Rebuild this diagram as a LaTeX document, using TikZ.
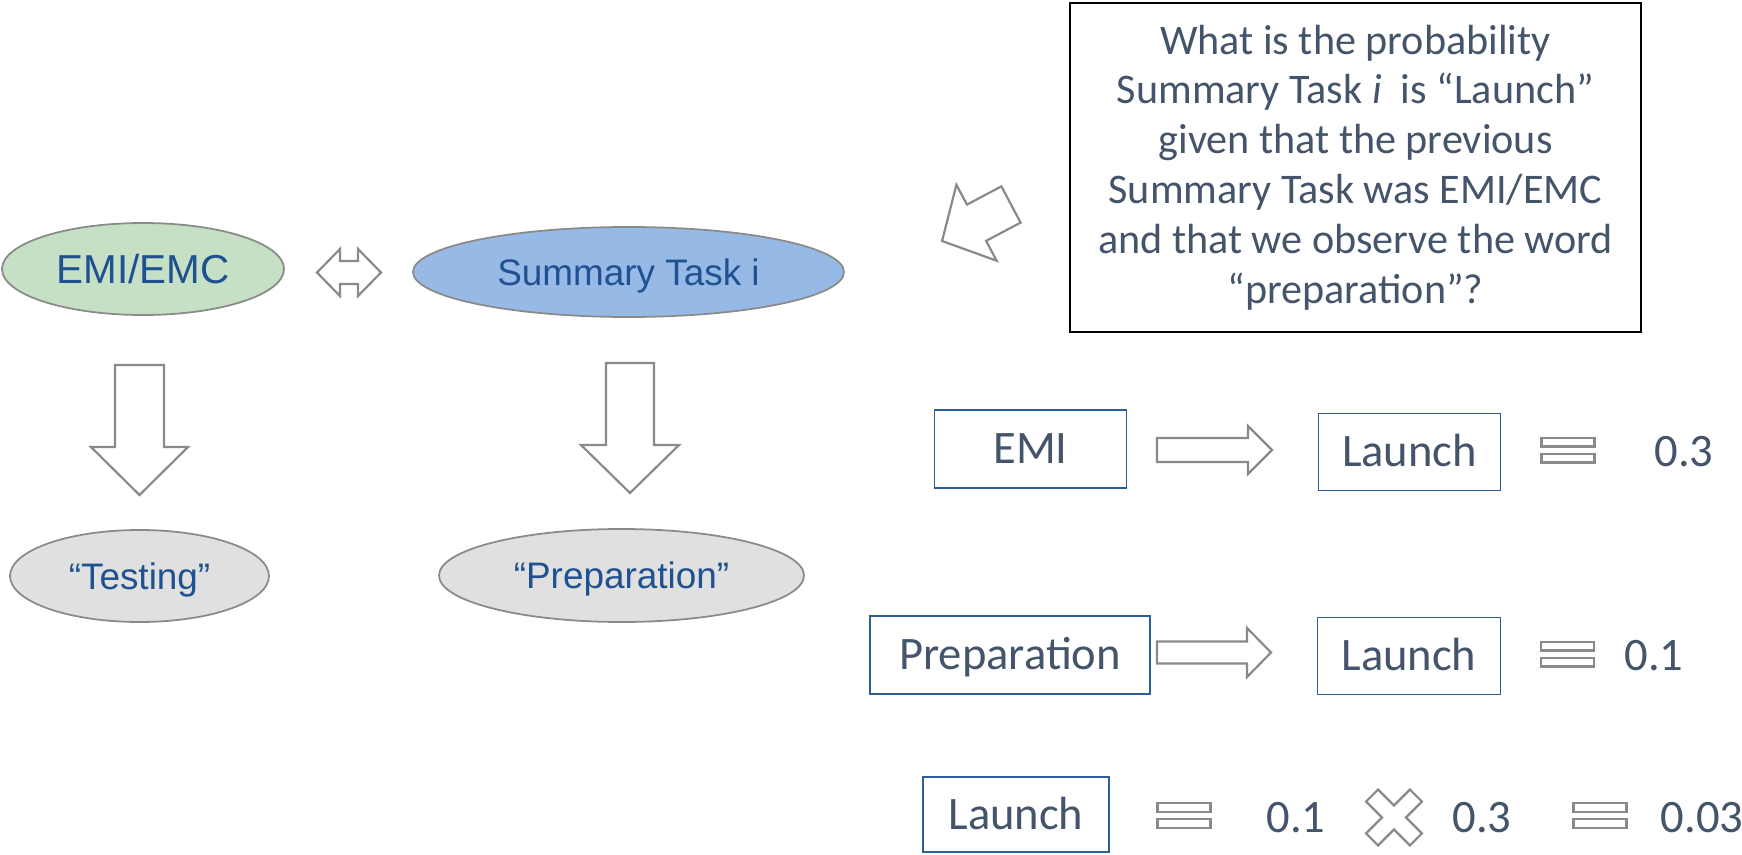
\documentclass[tikz,border=0pt]{standalone}
\usepackage{fontspec}
\setmainfont{Carlito}
\newfontfamily\ovalfont{Liberation Sans}
\usetikzlibrary{shapes.geometric}

\definecolor{txtgray}{HTML}{44546A}
\definecolor{ovaltext}{HTML}{1F5090}
\definecolor{linegray}{HTML}{8A8A8A}
\definecolor{fillgreen}{HTML}{C5E0C4}
\definecolor{fillblue}{HTML}{97B9E6}
\definecolor{fillgray}{HTML}{E0E0E0}
\definecolor{boxblue}{HTML}{2E5D9A}

\tikzset{
  blockline/.style={draw=linegray, line width=1.25pt, fill=white},
  oval/.style={ellipse, draw=linegray, line width=1pt, inner sep=0pt, text=ovaltext,
    font=\ovalfont\fontsize{21}{25}\selectfont, text height=17.1pt, text depth=2.1pt},
  ovalsize/.style 2 args={minimum width=#1*0.02cm, minimum height=#2*0.02cm},
  termbox/.style={rectangle, draw=boxblue, line width=1.1pt, inner sep=0pt, text=txtgray,
    font=\fontsize{26.5}{31}\selectfont, text height=19.4pt, text depth=2.65pt},
  numtxt/.style={inner sep=0pt, text=txtgray,
    font=\fontsize{26.5}{31}\selectfont, text height=19.4pt, text depth=2.65pt},
  questionbox/.style={rectangle, draw=black, line width=1.4pt, inner sep=0pt, text=txtgray,
    align=center, font=\fontsize{24}{28.4}\selectfont},
  % outlined block arrow pointing along +x: length / shaft half width / head half width / head length
  pics/blockarrow/.style args={#1/#2/#3/#4}{code={
    \draw[blockline] (0,-#2) -- ({#1-#4},-#2) -- ({#1-#4},-#3) -- (#1,0)
      -- ({#1-#4},#3) -- ({#1-#4},#2) -- (0,#2) -- cycle;
  }},
  % outlined left-right arrow
  pics/twowayarrow/.style={code={
    \draw[blockline] (-32,0) -- (-9,-23.5) -- (-9,-11.5) -- (9,-11.5) -- (9,-23.5)
      -- (32,0) -- (9,23.5) -- (9,11.5) -- (-9,11.5) -- (-9,23.5) -- cycle;
  }},
  % outlined equals sign
  pics/equalsign/.style={code={
    \draw[blockline] (-26.5,-12.4) rectangle (26.5,-3.6);
    \draw[blockline] (-26.5,3.6) rectangle (26.5,12.4);
  }},
  % outlined multiplication sign
  pics/timessign/.style={code={
    \draw[blockline] (12.02,0) -- (27.93,15.91) -- (15.91,27.93) -- (0,12.02)
      -- (-15.91,27.93) -- (-27.93,15.91) -- (-12.02,0) -- (-27.93,-15.91)
      -- (-15.91,-27.93) -- (0,-12.02) -- (15.91,-27.93) -- (27.93,-15.91) -- cycle;
  }},
}

\begin{document}
\begin{tikzpicture}[x=0.02cm, y=-0.02cm]
\useasboundingbox (0,0) rectangle (1742,855);

% model: hidden states and observed words
\node[oval, ovalsize={282}{92}, fill=fillgreen, font=\ovalfont\fontsize{23}{27}\selectfont,
      text height=18.7pt, text depth=2.3pt] (prev) at (143,269) {EMI/EMC};
\node[oval, ovalsize={431}{90}, fill=fillblue] (cur) at (628.5,272) {Summary Task i};
\node[oval, ovalsize={259}{92}, fill=fillgray] (wprev) at (139.5,576) {“Testing”};
\node[oval, ovalsize={365}{93}, fill=fillgray] (wcur) at (621.5,575.5) {“Preparation”};

\pic at (349,272.5) {twowayarrow};
\pic[rotate=-90] at (139.5,365) {blockarrow=130/24.5/48.5/48};
\pic[rotate=-90] at (630,363) {blockarrow=130/24/49/48};

% question
\node[questionbox, minimum width=571*0.02cm, minimum height=329*0.02cm] (question) at (1355.5,167.5)
  {What is the probability\\
   Summary Task \textit{i}\ \ is “Launch”\\
   given that the previous\\
   Summary Task was EMI/EMC\\
   and that we observe the word\\
   “preparation”?};
\pic[rotate=207.9] at (1011,204.5) {blockarrow=78/20.5/43/39};

% transition probability
\node[termbox, minimum width=192*0.02cm, minimum height=78*0.02cm] (emi) at (1030.5,449) {EMI};
\pic at (1157,450) {blockarrow=115/12/24/24};
\node[termbox, minimum width=182*0.02cm, minimum height=77*0.02cm] (launchA) at (1409.5,452) {Launch};
\pic at (1568,450) {equalsign};
\node[numtxt] (pA) at (1684,452) {0.3};

% emission probability
\node[termbox, minimum width=280*0.02cm, minimum height=78*0.02cm] (prep) at (1010,655) {Preparation};
\pic at (1157,652.5) {blockarrow=114/11/24.5/24};
\node[termbox, minimum width=183*0.02cm, minimum height=77*0.02cm] (launchB) at (1409,656) {Launch};
\pic at (1567.5,654) {equalsign};
\node[numtxt] (pB) at (1654,656) {0.1};

% product
\node[termbox, minimum width=186*0.02cm, minimum height=75*0.02cm] (launchC) at (1016,814.5) {Launch};
\pic at (1184,815.5) {equalsign};
\node[numtxt] (pC1) at (1296,818) {0.1};
\pic at (1394,817.5) {timessign};
\node[numtxt] (pC2) at (1482,818) {0.3};
\pic at (1600,815.5) {equalsign};
\node[numtxt] (pC3) at (1702,818) {0.03};
\end{tikzpicture}
\end{document}
